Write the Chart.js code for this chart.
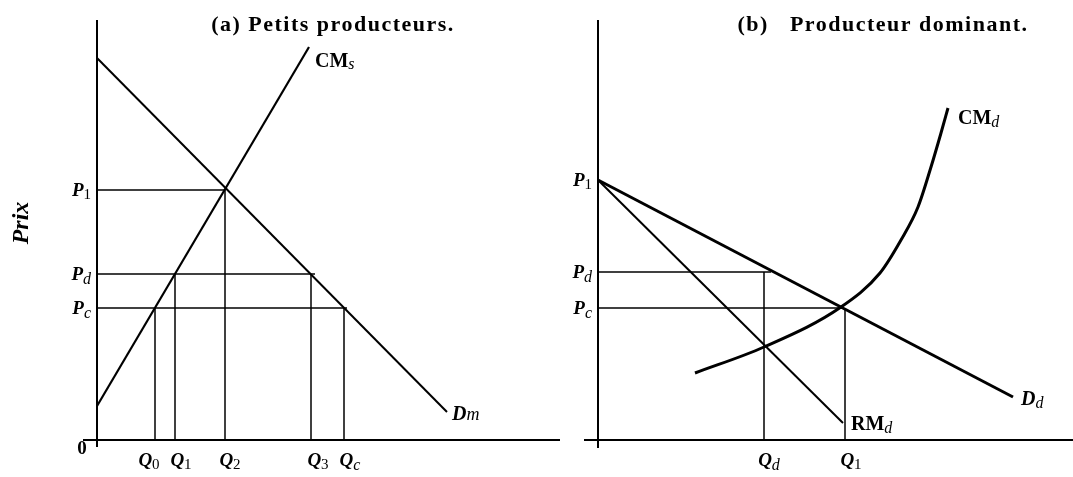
<!DOCTYPE html>
<html lang="fr">
<head>
<meta charset="utf-8">
<script src="https://cdn.jsdelivr.net/npm/chart.js@4"></script>
<style>
  html, body { margin: 0; padding: 0; background: #fff; }
  body { width: 1073px; height: 477px; position: relative; overflow: hidden; }
  canvas { position: absolute; top: 0; }
  #graphe-a { left: 0; }
  #graphe-b { left: 540px; }
</style>
</head>
<body>
<canvas id="graphe-a" width="560" height="477"></canvas>
<canvas id="graphe-b" width="533" height="477"></canvas>
<script>
/* ============================================================
   DONNÉES — (a) PETITS PRODUCTEURS
============================================================ */
const prixA = [25.0, 16.6, 13.2];                 // P1, Pd, Pc
const prixNomsA = [["P", "1"], ["P", "d"], ["P", "c"]];
const prixFinA = [12.8, 21.8, 25.0];              // fin des traits horizontaux
const quantA = [5.8, 7.8, 12.8, 21.4, 24.7];      // Q0, Q1, Q2, Q3, Qc
const quantNomsA = [["Q", "0"], ["Q", "1"], ["Q", "2"], ["Q", "3"], ["Q", "c"]];
const quantHautA = [13.2, 16.6, 25.0, 16.6, 13.2]; // hauteur des traits verticaux
const demandeA = [[0, 38.2], [35.0, 2.8]];        // Dm
const offreA = [[0, 3.4], [21.2, 39.3]];          // CMs

/* ============================================================
   DONNÉES — (b) PRODUCTEUR DOMINANT
============================================================ */
const prixB = [26.0, 16.8, 13.2];                 // P1, Pd, Pc
const prixNomsB = [["P", "1"], ["P", "d"], ["P", "c"]];
const prixFinB = [null, 17.3, 24.5];
const quantB = [16.6, 24.7];                      // Qd, Q1
const quantNomsB = [["Q", "d"], ["Q", "1"]];
const quantHautB = [16.8, 13.2];
const demandeB = [[0, 26.0], [41.5, 4.3]];        // Dd
const recetteB = [[0, 26.0], [24.5, 1.7]];        // RMd
const coutB = [                                   // CMd
    [9.7, 6.7], [16.6, 9.3], [24.3, 13.3], [28.2, 16.7], [30.3, 20.0],
    [32.0, 23.3], [33.3, 27.3], [34.3, 30.7], [35.0, 33.2]
];

/* ============================================================
   STYLES
============================================================ */
const SERIF = '"Liberation Serif", "Times New Roman", serif';
const F_LETTRE = `bold italic 19px ${SERIF}`;
const F_DROIT = `bold 20px ${SERIF}`;
const F_CHIFFRE = `15px ${SERIF}`;
const F_SUB = `italic 16px ${SERIF}`;

function trait(points, largeur, lisse) {
    return {
        data: points.map(([x, y]) => ({ x, y })),
        borderColor: "#000",
        borderWidth: largeur,
        pointRadius: 0,
        fill: false,
        tension: 0,
        cubicInterpolationMode: lisse ? "monotone" : "default"
    };
}

function ecrire(ctx, morceaux, x, y, align) {
    let total = 0;
    for (const m of morceaux) { ctx.font = m[1]; total += ctx.measureText(m[0]).width; }
    let cx = align === "right" ? x - total : align === "center" ? x - total / 2 : x;
    ctx.textAlign = "left";
    ctx.textBaseline = "alphabetic";
    for (const m of morceaux) {
        ctx.font = m[1];
        ctx.fillText(m[0], cx, y + (m[2] || 0));
        cx += ctx.measureText(m[0]).width;
    }
}

function indice(lettre, sub, police) {
    const chiffre = /\d/.test(sub);
    return [[lettre, police || F_LETTRE, 0], [sub, chiffre ? F_CHIFFRE : F_SUB, chiffre ? 3 : 4]];
}

function ecrirePrix(ctx, x, y) {
    ctx.save();
    ctx.translate(x, y);
    ctx.rotate(-Math.PI / 2);
    ctx.font = `bold italic 24px ${SERIF}`;
    ctx.textAlign = "center";
    ctx.textBaseline = "middle";
    ctx.fillText("Prix", 0, 0);
    ctx.restore();
}

function ecrireTitre(ctx, texte, x, y) {
    ctx.save();
    ctx.font = `bold 22px ${SERIF}`;
    ctx.letterSpacing = "1.5px";
    ctx.textAlign = "center";
    ctx.textBaseline = "alphabetic";
    ctx.fillText(texte, x, y);
    ctx.restore();
}

/* ============================================================
   ÉTIQUETTES (plugin)
============================================================ */
const etiquettesA = {
    id: "etiquettesA",
    afterDraw(chart) {
        const { ctx, scales: { x, y } } = chart;
        ctx.save();
        ctx.fillStyle = "#000";
        const x0 = x.getPixelForValue(0);
        const y0 = y.getPixelForValue(0);

        prixA.forEach((p, i) => {
            const [l, s] = prixNomsA[i];
            ecrire(ctx, indice(l, s), x0 - 6, y.getPixelForValue(p) + 6, "right");
        });

        const decal = [-6, 6, 5, 7, 6];
        quantA.forEach((q, i) => {
            const [l, s] = quantNomsA[i];
            ecrire(ctx, indice(l, s), x.getPixelForValue(q) + decal[i], y0 + 26, "center");
        });

        ctx.font = `bold 19px ${SERIF}`;
        ctx.textAlign = "center";
        ctx.fillText("0", x0 - 15, y0 + 14);

        const fo = offreA[offreA.length - 1];
        ecrire(ctx, [["CM", F_DROIT, 0], ["s", F_SUB, 2]],
            x.getPixelForValue(fo[0]) + 6, y.getPixelForValue(fo[1]) + 20, "left");
        const fd = demandeA[demandeA.length - 1];
        ecrire(ctx, [["D", `bold italic 20px ${SERIF}`, 0], ["m", `italic 18px ${SERIF}`, 0]],
            x.getPixelForValue(fd[0]) + 5, y.getPixelForValue(fd[1]) + 8, "left");

        ecrirePrix(ctx, 22, 223);
        ecrireTitre(ctx, "(a) Petits producteurs.", 333, 31);
        ctx.restore();
    }
};

const etiquettesB = {
    id: "etiquettesB",
    afterDraw(chart) {
        const { ctx, scales: { x, y } } = chart;
        ctx.save();
        ctx.fillStyle = "#000";
        const x0 = x.getPixelForValue(0);
        const y0 = y.getPixelForValue(0);

        prixB.forEach((p, i) => {
            const [l, s] = prixNomsB[i];
            ecrire(ctx, indice(l, s), x0 - 6, y.getPixelForValue(p) + 6, "right");
        });

        const decal = [5, 6];
        quantB.forEach((q, i) => {
            const [l, s] = quantNomsB[i];
            ecrire(ctx, indice(l, s), x.getPixelForValue(q) + decal[i], y0 + 26, "center");
        });

        const fc = coutB[coutB.length - 1];
        ecrire(ctx, [["CM", F_DROIT, 0], ["d", F_SUB, 3]],
            x.getPixelForValue(fc[0]) + 10, y.getPixelForValue(fc[1]) + 16, "left");
        const fd = demandeB[demandeB.length - 1];
        ecrire(ctx, [["D", `bold italic 20px ${SERIF}`, 0], ["d", F_SUB, 3]],
            x.getPixelForValue(fd[0]) + 8, y.getPixelForValue(fd[1]) + 8, "left");
        const fr = recetteB[recetteB.length - 1];
        ecrire(ctx, [["RM", F_DROIT, 0], ["d", F_SUB, 3]],
            x.getPixelForValue(fr[0]) + 8, y.getPixelForValue(fr[1]) + 7, "left");

        ecrirePrix(ctx, -28, 212);
        ecrireTitre(ctx, "(b)   Producteur dominant.", 343, 31);
        ctx.restore();
    }
};

/* ============================================================
   GRAPHIQUES
============================================================ */
function options(xMin, xMax) {
    return {
        responsive: false,
        animation: false,
        devicePixelRatio: 1,
        layout: { padding: 0 },
        plugins: { legend: { display: false }, tooltip: { enabled: false } },
        scales: {
            x: { type: "linear", min: xMin, max: xMax, display: false },
            y: { type: "linear", min: -3.7, max: 44.0, display: false }
        }
    };
}

function jeuA() {
    const ds = [];
    ds.push(trait([[-1.4, 0], [46.3, 0]], 2));
    ds.push(trait([[0, -0.7], [0, 42.0]], 2));
    prixA.forEach((p, i) => ds.push(trait([[0, p], [prixFinA[i], p]], 1.5)));
    quantA.forEach((q, i) => ds.push(trait([[q, 0], [q, quantHautA[i]]], 1.5)));
    ds.push(trait(demandeA, 2));
    ds.push(trait(offreA, 2.2));
    return ds;
}

function jeuB() {
    const ds = [];
    ds.push(trait([[-1.4, 0], [47.5, 0]], 2));
    ds.push(trait([[0, -0.8], [0, 42.0]], 2));
    prixB.forEach((p, i) => {
        if (prixFinB[i] !== null) ds.push(trait([[0, p], [prixFinB[i], p]], 1.5));
    });
    quantB.forEach((q, i) => ds.push(trait([[q, 0], [q, quantHautB[i]]], 1.5)));
    ds.push(trait(recetteB, 2));
    ds.push(trait(demandeB, 3));
    ds.push(trait(coutB, 3, true));
    return ds;
}

new Chart(document.getElementById("graphe-a"), {
    type: "line",
    data: { datasets: jeuA() },
    options: options(-9.7, 46.3),
    plugins: [etiquettesA]
});

new Chart(document.getElementById("graphe-b"), {
    type: "line",
    data: { datasets: jeuB() },
    options: options(-5.8, 47.5),
    plugins: [etiquettesB]
});
</script>
</body>
</html>
